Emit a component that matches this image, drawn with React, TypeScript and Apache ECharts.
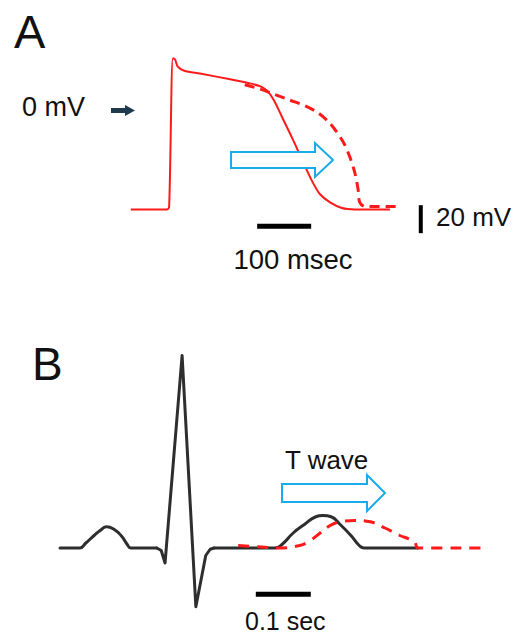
import React, { useEffect, useRef } from "react";
import * as echarts from "echarts";

// Panel A: ventricular action potential (time in ms, voltage in mV)
const apSolidT = [20, 87, 91, 98, 102, 107, 119, 148, 204, 241, 259, 272, 285, 300, 320, 339, 356, 370, 389, 411, 435, 500];
const apSolidV = [-71, -71, -69, 37, 36, 31, 28, 26, 22, 19, 17, 14, 7, -5, -21, -37, -51, -60, -66, -70, -71, -71];
const apDashT = [231, 259, 287, 315, 343, 367, 385, 400, 415, 426, 435, 441, 444, 454, 513];
const apDashV = [18, 15, 11, 7, 3, -2, -8, -15, -24, -34, -45, -57, -66, -69, -69];
const timeBarA = [254, 354]; // 100 msec
const timeBarAV = -83;
const voltBarA = [-68, -88]; // 20 mV
const voltBarAT = 557;

// Panel B: ECG (time in s, amplitude in mV)
const ecgT = [0, 0.036, 0.047, 0.062, 0.073, 0.085, 0.098, 0.111, 0.122, 0.129, 0.176, 0.184, 0.191, 0.222, 0.247, 0.265, 0.273, 0.28, 0.391, 0.404, 0.424, 0.445, 0.465, 0.478, 0.493, 0.509, 0.529, 0.544, 0.553, 0.651];
const ecgV = [0, 0, 0.04, 0.1, 0.14, 0.17, 0.15, 0.1, 0.03, 0, 0, -0.02, -0.12, 1.54, -0.47, -0.06, -0.01, 0, 0, 0.03, 0.12, 0.19, 0.25, 0.26, 0.25, 0.19, 0.1, 0.02, 0, 0];
const tWaveT = [0.324, 0.36, 0.395, 0.436, 0.455, 0.473, 0.491, 0.509, 0.536, 0.564, 0.591, 0.618, 0.636, 0.645, 0.651, 0.769];
const tWaveV = [0.02, 0.01, 0, 0.02, 0.06, 0.12, 0.18, 0.21, 0.22, 0.21, 0.16, 0.1, 0.07, 0.05, 0, 0];
const qrsStart = 10; // index where the QRS complex begins (sharp segment)
const qrsEnd = 17; // index where it returns to baseline
const timeBarB = [0.356, 0.456]; // 0.1 sec
const timeBarBV = -0.37;

const zip = (a: number[], b: number[]) => a.map((v, i) => [v, b[i]]);

const FONT = '"Liberation Sans", Arial, sans-serif';
const BLUE = "#1aabea";
const RED = "#ff1a1a";
const ECG_COLOR = "#2e2e2e";

function blockArrow(x0: number, x1: number, tip: number, yc: number, half: number, headHalf: number) {
  return {
    type: "polygon",
    shape: {
      points: [
        [x0, yc - half],
        [x1, yc - half],
        [x1, yc - headHalf],
        [tip, yc],
        [x1, yc + headHalf],
        [x1, yc + half],
        [x0, yc + half],
      ],
    },
    style: { fill: "#ffffff", stroke: BLUE, lineWidth: 2 },
    z: 10,
  };
}

function txt(text: string, x: number, y: number, size: number, align = "left") {
  return {
    type: "text",
    x,
    y,
    style: {
      text,
      font: `${size}px ${FONT}`,
      fill: "#111111",
      textAlign: align,
      textVerticalAlign: "middle",
      align,
      verticalAlign: "middle",
    },
    z: 20,
  };
}

export default function App() {
  const ref = useRef<HTMLDivElement>(null);
  useEffect(() => {
    if (!ref.current) return;
    const chart = echarts.init(ref.current, undefined, { renderer: "svg" });
    const hidden = (min: number, max: number, gridIndex: number) => ({
      type: "value", min, max, gridIndex, show: false,
    });
    const ecg = zip(ecgT, ecgV);
    const ecgSeg = (from: number, to: number, smooth: number | boolean) => ({
      type: "line", xAxisIndex: 1, yAxisIndex: 1, symbol: "none", smooth, clip: false,
      data: ecg.slice(from, to + 1),
      lineStyle: { color: ECG_COLOR, width: 3, cap: "round", join: "round" }, z: 3,
    });
    chart.setOption({
      animation: false,
      backgroundColor: "#ffffff",
      grid: [
        { left: 120, top: 40, width: 324, height: 210 },
        { left: 60, top: 323, width: 440, height: 300 },
      ],
      xAxis: [hidden(0, 600, 0), hidden(0, 0.8, 1)],
      yAxis: [hidden(-100, 50, 0), hidden(-0.6, 1.8, 1)],
      series: [
        {
          type: "line", xAxisIndex: 0, yAxisIndex: 0, symbol: "none", smooth: 0.3, clip: false,
          data: zip(apSolidT, apSolidV),
          lineStyle: { color: RED, width: 2 }, z: 3,
        },
        {
          type: "line", xAxisIndex: 0, yAxisIndex: 0, symbol: "none", smooth: 0.3, clip: false,
          data: zip(apDashT, apDashV),
          lineStyle: { color: RED, width: 3, type: [10, 6] }, z: 2,
        },
        {
          type: "line", xAxisIndex: 0, yAxisIndex: 0, symbol: "none", clip: false,
          data: timeBarA.map((t) => [t, timeBarAV]),
          lineStyle: { color: "#000000", width: 5, cap: "butt" },
        },
        {
          type: "line", xAxisIndex: 0, yAxisIndex: 0, symbol: "none", clip: false,
          data: voltBarA.map((v) => [voltBarAT, v]),
          lineStyle: { color: "#000000", width: 4, cap: "butt" },
        },
        ecgSeg(0, qrsStart, 0.5),
        ecgSeg(qrsStart, qrsEnd, false),
        ecgSeg(qrsEnd, ecgT.length - 1, 0.5),
        {
          type: "line", xAxisIndex: 1, yAxisIndex: 1, symbol: "none", smooth: 0.4, clip: false,
          data: zip(tWaveT, tWaveV),
          lineStyle: { color: RED, width: 3, type: [11, 8] }, z: 4,
        },
        {
          type: "line", xAxisIndex: 1, yAxisIndex: 1, symbol: "none", clip: false,
          data: timeBarB.map((t) => [t, timeBarBV]),
          lineStyle: { color: "#000000", width: 5, cap: "butt" },
        },
      ],
      graphic: [
        txt("A", 14, 31, 47),
        txt("0 mV", 22, 107, 27),
        {
          type: "group",
          children: [
            { type: "rect", shape: { x: 111, y: 108, width: 16, height: 5 }, style: { fill: "#1f3a4d" } },
            { type: "polygon", shape: { points: [[125, 105], [135, 110.5], [125, 116]] }, style: { fill: "#1f3a4d" } },
          ],
        },
        blockArrow(231, 315, 333, 160, 8, 17),
        txt("100 msec", 293, 259, 27.5, "center"),
        txt("20 mV", 436, 217, 26),
        txt("B", 32, 364, 46),
        txt("T wave", 285, 460, 26),
        blockArrow(282, 367, 385, 493, 9, 18),
        txt("0.1 sec", 245, 621, 25),
      ],
    });
    return () => chart.dispose();
  }, []);
  return (
    <div
      ref={ref}
      style={{ position: "absolute", left: 0, top: 0, width: 516, height: 634, background: "#fff" }}
    />
  );
}
